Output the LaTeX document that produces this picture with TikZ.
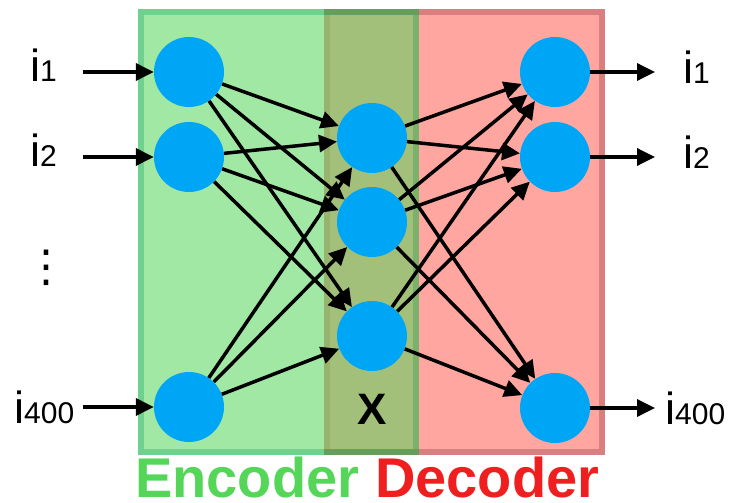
\documentclass[tikz,border=0pt]{standalone}
\usepackage{fontspec}
\setmainfont{Liberation Sans}
\newfontfamily\dejavu{DejaVu Sans}
\usetikzlibrary{arrows.meta}
\definecolor{gfill}{HTML}{A2E8A5}
\definecolor{gline}{HTML}{6FD18E}
\definecolor{rfill}{HTML}{FFA6A0}
\definecolor{rline}{HTML}{D97F7F}
\definecolor{ofill}{HTML}{A2C07A}
\definecolor{oline}{HTML}{659E5A}
\definecolor{oleft}{HTML}{98B36E}
\definecolor{oright}{HTML}{7AB26C}
\definecolor{neuron}{HTML}{00A6F6}
\definecolor{enc}{HTML}{55D659}
\definecolor{dec}{HTML}{F01F1F}
\tikzset{
  neur/.style={circle, fill=neuron, minimum size=70pt, inner sep=0pt},
  conn/.style={line width=3.5pt, -{Triangle[length=18pt,width=17pt]}},
  lbl/.style={anchor=base west, inner sep=0pt},
}
\newcommand{\ilab}[1]{{\fontsize{45}{45}\selectfont i}{\fontsize{30}{30}\selectfont #1}}
\begin{document}
\begin{tikzpicture}[x=1pt,y=-1pt]
\useasboundingbox (0,0) rectangle (729,503);
% regions
\fill[gfill] (138,9.5) rectangle (325,455);
\fill[rfill] (418,9.5) rectangle (605,455);
\fill[ofill] (325,9.5) rectangle (418,455);
% borders
\fill[gline] (138,9.5) rectangle (325,15.5);
\fill[gline] (138,449) rectangle (325,455);
\fill[gline] (138,9.5) rectangle (144,455);
\fill[rline] (418,9.5) rectangle (605,15.5);
\fill[rline] (418,449) rectangle (605,455);
\fill[rline] (599,9.5) rectangle (605,455);
\fill[oleft] (324,15.5) rectangle (330,449);
\fill[oright] (413,15.5) rectangle (419,449);
\fill[oline] (324,9.5) rectangle (419,15.5);
\fill[oline] (324,449) rectangle (419,455);
% neurons
\node[neur] (a1) at (189,72) {};
\node[neur] (a2) at (189,157) {};
\node[neur] (a3) at (189,407) {};
\node[neur] (m1) at (372,138) {};
\node[neur] (m2) at (372,222) {};
\node[neur] (m3) at (372,336) {};
\node[neur] (o1) at (555,72) {};
\node[neur] (o2) at (555,157) {};
\node[neur] (o3) at (555,408) {};
% connections
\foreach \s in {a1,a2,a3}
  \foreach \t in {m1,m2,m3}
    \draw[conn] (\s) -- (\t);
\foreach \s in {m1,m2,m3}
  \foreach \t in {o1,o2,o3}
    \draw[conn] (\s) -- (\t);
% inputs / outputs
\coordinate (in1) at (83,72);
\coordinate (in2) at (83,157);
\coordinate (in3) at (83,407);
\coordinate (out1) at (655,72);
\coordinate (out2) at (655,157);
\coordinate (out3) at (655,408);
\draw[conn] (in1) -- (a1);
\draw[conn] (in2) -- (a2);
\draw[conn] (in3) -- (a3);
\draw[conn] (o1) -- (out1);
\draw[conn] (o2) -- (out2);
\draw[conn] (o3) -- (out3);
% labels
\node[lbl] (li1) at (30,82) {\ilab{1}};
\node[lbl] (li2) at (30,166) {\ilab{2}};
\node[lbl] (li3) at (14,423) {\ilab{400}};
\node (ldots) at (46,268) {\dejavu\fontsize{44}{44}\selectfont ⋮};
\node[lbl] (ri1) at (683,84) {\ilab{1}};
\node[lbl] (ri2) at (683,168) {\ilab{2}};
\node[lbl] (ri3) at (665,424) {\ilab{400}};
\node (xl) at (372,409) {\fontsize{44}{44}\selectfont\bfseries X};
\node[lbl, text=enc] (encl) at (135,497) {\fontsize{56}{56}\selectfont\bfseries Encoder};
\node[lbl, text=dec] (decl) at (375,497) {\fontsize{56}{56}\selectfont\bfseries Decoder};
\end{tikzpicture}
\end{document}
